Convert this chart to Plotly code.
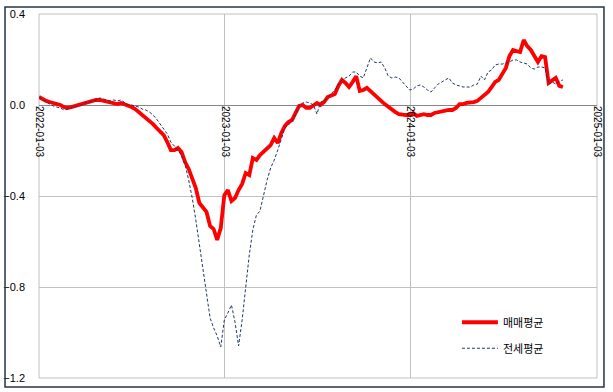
import pandas as pd
import plotly.graph_objects as go

start_date = "2022-01-03"
n_weeks = 148
dates = pd.date_range(start_date, periods=n_weeks, freq="7D")

sale_avg = [
    0.035, 0.026, 0.018, 0.013, 0.009, 0.004, 0.000, -0.009, -0.013, -0.009,
    -0.004, 0.000, 0.004, 0.009, 0.013, 0.018, 0.022, 0.022, 0.018, 0.013,
    0.013, 0.009, 0.004, 0.009, 0.004, -0.004, -0.009, -0.018, -0.031, -0.044,
    -0.057, -0.066, -0.084, -0.101, -0.114, -0.132, -0.163, -0.198, -0.198, -0.189,
    -0.207, -0.251, -0.281, -0.321, -0.365, -0.431, -0.448, -0.470, -0.532, -0.545,
    -0.593, -0.541, -0.396, -0.374, -0.422, -0.409, -0.374, -0.347, -0.299, -0.308,
    -0.233, -0.242, -0.220, -0.207, -0.193, -0.176, -0.145, -0.167, -0.123, -0.092,
    -0.075, -0.066, -0.035, -0.004, 0.000, -0.013, -0.013, 0.000, 0.009, 0.000,
    0.013, 0.035, 0.040, 0.048, 0.084, 0.110, 0.097, 0.079, 0.101, 0.127,
    0.062, 0.066, 0.075, 0.062, 0.044, 0.031, 0.018, 0.004, -0.009, -0.022,
    -0.031, -0.040, -0.044, -0.044, -0.044, -0.035, -0.048, -0.044, -0.040, -0.044,
    -0.044, -0.035, -0.031, -0.031, -0.026, -0.022, -0.022, -0.013, 0.004, 0.004,
    0.009, 0.009, 0.013, 0.018, 0.031, 0.044, 0.057, 0.079, 0.101, 0.110,
    0.141, 0.163, 0.215, 0.242, 0.237, 0.233, 0.286, 0.259, 0.242, 0.215,
    0.189, 0.215, 0.211, 0.097, 0.110, 0.119, 0.084, 0.079,
]

jeonse_avg = [
    0.035, 0.026, 0.013, 0.004, -0.004, -0.009, -0.013, -0.022, -0.018, -0.013,
    -0.009, -0.004, 0.000, 0.009, 0.013, 0.018, 0.022, 0.031, 0.026, 0.022,
    0.018, 0.022, 0.018, 0.022, 0.009, 0.000, 0.000, -0.004, -0.009, -0.018,
    -0.022, -0.031, -0.044, -0.062, -0.084, -0.101, -0.127, -0.163, -0.180, -0.198,
    -0.224, -0.264, -0.330, -0.409, -0.505, -0.615, -0.725, -0.813, -0.936, -0.980,
    -1.015, -1.064, -0.945, -0.914, -0.879, -0.954, -1.059, -0.945, -0.791, -0.659,
    -0.549, -0.484, -0.466, -0.396, -0.330, -0.277, -0.242, -0.198, -0.145, -0.101,
    -0.088, -0.070, -0.040, -0.004, 0.009, 0.013, 0.009, 0.000, -0.040, 0.013,
    0.018, 0.035, 0.053, 0.066, 0.088, 0.110, 0.119, 0.127, 0.145, 0.145,
    0.127, 0.119, 0.163, 0.207, 0.189, 0.185, 0.189, 0.163, 0.127, 0.119,
    0.123, 0.119, 0.101, 0.084, 0.066, 0.070, 0.084, 0.088, 0.079, 0.066,
    0.057, 0.075, 0.092, 0.101, 0.110, 0.119, 0.097, 0.088, 0.084, 0.079,
    0.079, 0.079, 0.088, 0.092, 0.127, 0.110, 0.145, 0.154, 0.176, 0.180,
    0.180, 0.185, 0.189, 0.198, 0.198, 0.189, 0.185, 0.180, 0.163, 0.158,
    0.167, 0.167, 0.163, 0.092, 0.101, 0.092, 0.105, 0.110,
]

x_ticks = ["2022-01-03", "2023-01-03", "2024-01-03", "2025-01-03"]
y_ticks = [0.4, 0.0, -0.4, -0.8, -1.2]
series_names = ["매매평균", "전세평균"]

fig = go.Figure()
fig.add_trace(go.Scatter(
    x=dates, y=sale_avg, name=series_names[0], mode="lines",
    line=dict(color="#ff0000", width=3.8), legendgroup="a",
))
fig.add_trace(go.Scatter(
    x=dates, y=jeonse_avg, name=series_names[1], mode="lines",
    line=dict(color="#1f3864", width=1, dash="3px,2px"), legendgroup="b",
))

fig.update_layout(
    width=613, height=392,
    margin=dict(l=39, r=16, t=14, b=14, autoexpand=False),
    paper_bgcolor="white", plot_bgcolor="white",
    font=dict(family="Liberation Sans, Arial, sans-serif", size=11, color="#000000"),
    showlegend=True,
    legend=dict(
        x=0.749, y=0.193, xanchor="left", yanchor="top",
        bgcolor="rgba(0,0,0,0)", itemwidth=36, tracegroupgap=7,
        font=dict(family="Noto Sans CJK KR", size=11, color="#000000"),
    ),
    xaxis=dict(
        type="date", range=[x_ticks[0], x_ticks[-1]],
        tickvals=x_ticks, ticktext=x_ticks, tickangle=90,
        anchor="free", position=0.75, automargin=False,
        showgrid=True, gridcolor="#c0c0c0", gridwidth=1,
        showline=False, zeroline=False, ticks="",
        tickfont=dict(size=10),
    ),
    yaxis=dict(
        range=[-1.2, 0.4], tickvals=y_ticks, tickformat=".1f", automargin=False,
        showgrid=True, gridcolor="#c0c0c0", gridwidth=1,
        zeroline=True, zerolinecolor="#868686", zerolinewidth=1,
        showline=False, ticks="", ticklabelstandoff=13,
    ),
    shapes=[
        dict(type="rect", xref="paper", yref="paper", x0=0, x1=1, y0=0, y1=1,
             line=dict(color="#c0c0c0", width=1), layer="below"),
        dict(type="rect", xref="paper", yref="paper",
             x0=-0.0609, x1=1.0125, y0=-0.0247, y1=1.0192,
             line=dict(color="#243447", width=1.5)),
    ],
)

fig.write_html(
    "out.html",
    config={"displayModeBar": False},
    post_script="document.body.style.margin='0';document.body.style.padding='0';",
)
